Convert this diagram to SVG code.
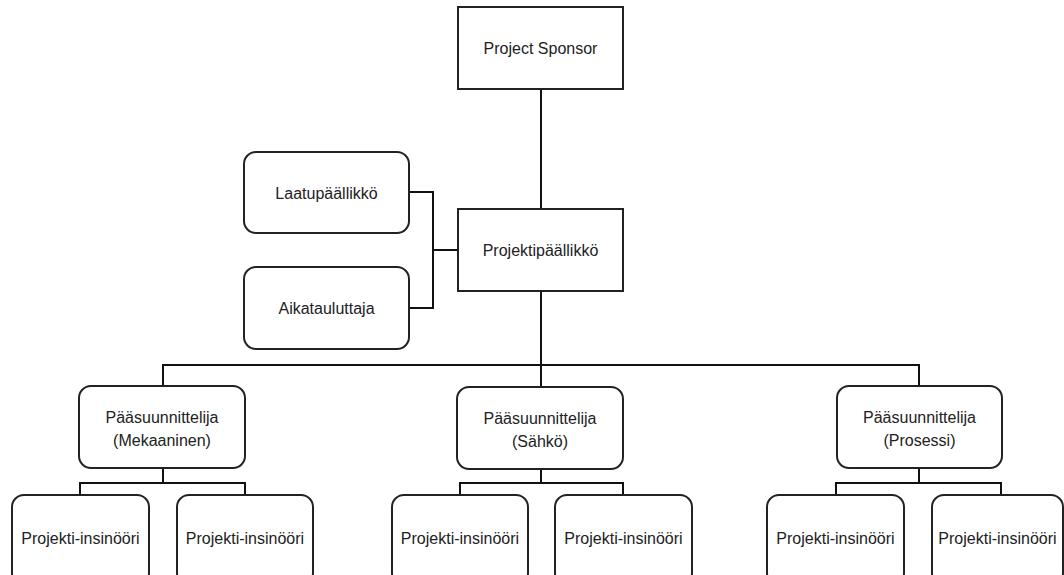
<svg xmlns="http://www.w3.org/2000/svg" width="1064" height="575" viewBox="0 0 1064 575">
<style>
.box{fill:#fff;stroke:#222;stroke-width:2}
.lbl{font-family:"Liberation Sans",Arial,sans-serif;font-size:16px;fill:#222;text-anchor:middle}
.conn{fill:none;stroke:#111;stroke-width:2}
</style>
<rect width="1064" height="575" fill="#fff"/>
<g id="connectors">
<path class="conn" d="M541 89V209"/>
<path class="conn" d="M409 192H433V308H409M433 250H458"/>
<path class="conn" d="M541 291V387M163 387V365H919V387"/>
<path class="conn" d="M163 468V483M80 495V483H245V495"/>
<path class="conn" d="M541 468V483M460 495V483H623V495"/>
<path class="conn" d="M919 468V483M836 495V483H1001V495"/>
</g>
<g id="sponsor"><rect class="box" x="458" y="7" width="165" height="82"/><text class="lbl" x="540.5" y="54">Project Sponsor</text></g>
<g id="pm"><rect class="box" x="458" y="209" width="165" height="82"/><text class="lbl" x="540.5" y="256">Projektipäällikkö</text></g>
<g id="quality"><rect class="box" x="244" y="152" width="165" height="81" rx="12"/><text class="lbl" x="326.5" y="199">Laatupäällikkö</text></g>
<g id="scheduler"><rect class="box" x="244" y="267" width="165" height="82" rx="12"/><text class="lbl" x="326.5" y="314">Aikatauluttaja</text></g>
<g id="lead-mech"><rect class="box" x="79" y="386" width="166" height="82" rx="12"/><text class="lbl" x="162" y="423">Pääsuunnittelija</text><text class="lbl" x="162" y="446">(Mekaaninen)</text></g>
<g id="lead-elec"><rect class="box" x="457" y="387" width="166" height="82" rx="12"/><text class="lbl" x="540" y="424">Pääsuunnittelija</text><text class="lbl" x="540" y="447">(Sähkö)</text></g>
<g id="lead-proc"><rect class="box" x="837" y="386" width="165" height="82" rx="12"/><text class="lbl" x="919.5" y="423">Pääsuunnittelija</text><text class="lbl" x="919.5" y="446">(Prosessi)</text></g>
<g id="eng1"><rect class="box" x="12" y="495" width="137" height="90" rx="12"/><text class="lbl" x="80.5" y="544">Projekti-insinööri</text></g>
<g id="eng2"><rect class="box" x="177" y="495" width="136" height="90" rx="12"/><text class="lbl" x="245" y="544">Projekti-insinööri</text></g>
<g id="eng3"><rect class="box" x="392" y="495" width="136" height="90" rx="12"/><text class="lbl" x="460" y="544">Projekti-insinööri</text></g>
<g id="eng4"><rect class="box" x="555" y="495" width="137" height="90" rx="12"/><text class="lbl" x="623.5" y="544">Projekti-insinööri</text></g>
<g id="eng5"><rect class="box" x="767" y="495" width="137" height="90" rx="12"/><text class="lbl" x="835.5" y="544">Projekti-insinööri</text></g>
<g id="eng6"><rect class="box" x="932" y="495" width="131" height="90" rx="12"/><text class="lbl" x="997.5" y="544">Projekti-insinööri</text></g>
</svg>
